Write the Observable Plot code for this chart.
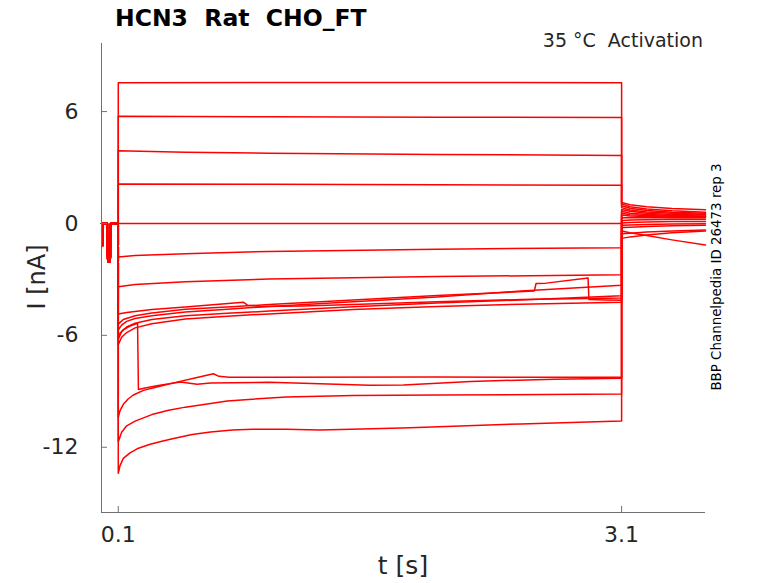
<!DOCTYPE html>
<html>
<head>
<meta charset="utf-8">
<script src="https://cdn.jsdelivr.net/npm/d3@7"></script>
<script src="https://cdn.jsdelivr.net/npm/@observablehq/plot@0.6"></script>
<style>
  body { margin: 0; background: #fff; }
  #chart { position: relative; width: 778px; height: 583px; }
  #chart svg { overflow: visible; }
</style>
</head>
<body>
<div id="chart"></div>
<script>
// HCN3 activation sweeps, current I [nA] vs time t [s]

const xTicks = [0.1, 3.1];
const yTicks = [6, 0, -6, -12];

// holding + test pulse before the step (same for every sweep)
const prePulse = [[0, 0], [0.006, 0], [0.0065, -1.2], [0.007, 0], [0.035, 0], [0.036, -1.8], [0.038, -2.05],
  [0.051, -2.05], [0.053, -1.8], [0.054, 0], [0.1, 0]];

// step part of each sweep (0.1 s .. 3.1 s)
const stepT1 = [[0.1, 7.55], [1.5, 7.56], [3.1, 7.55]];
const stepT2 = [[0.1, 5.75], [1.0, 5.72], [2.0, 5.7], [3.1, 5.68]];
const stepT3 = [[0.1, 3.9], [0.5, 3.82], [1.0, 3.77], [2.0, 3.7], [3.1, 3.65]];
const stepT4 = [[0.1, 2.12], [1.0, 2.1], [2.0, 2.07], [3.1, 2.05]];
const stepT5 = [[0.1, 0], [3.1, 0]];
const stepT6 = [[0.1, -1.8], [0.2, -1.72], [0.5, -1.62], [1.0, -1.5], [2.0, -1.38], [3.1, -1.3]];
const stepT7 = [[0.1, -3.4], [0.2, -3.27], [0.5, -3.12], [1.0, -2.98], [2.0, -2.85], [3.1, -2.75]];
const stepC1 = [[0.1, -5.4], [0.13, -5.15], [0.2, -4.95], [0.3, -4.8], [0.5, -4.6], [0.8, -4.45], [1.0, -4.35],
  [1.5, -4.1], [2.0, -3.87], [2.58, -3.62], [2.59, -3.22], [2.65, -3.2], [2.9, -2.93], [2.905, -4.08],
  [3.0, -4.1], [3.1, -4.12]];
const stepC2 = [[0.1, -4.85], [0.15, -4.78], [0.2, -4.72], [0.3, -4.62], [0.5, -4.48], [0.7, -4.33], [0.845, -4.22],
  [0.87, -4.38], [0.95, -4.45], [1.2, -4.42], [1.5, -4.35], [2.0, -4.2], [2.5, -4.08], [3.1, -4.0]];
const stepC3 = [[0.1, -5.7], [0.12, -5.45], [0.15, -5.25], [0.2, -5.1], [0.3, -4.95], [0.5, -4.75], [0.75, -4.6],
  [1.0, -4.45], [1.5, -4.2], [2.0, -3.95], [2.5, -3.62], [3.1, -3.32]];
const stepC4 = [[0.1, -6.2], [0.12, -5.8], [0.15, -5.55], [0.2, -5.35], [0.3, -5.15], [0.5, -4.95], [0.75, -4.82],
  [1.0, -4.7], [1.5, -4.47], [2.0, -4.27], [2.5, -4.1], [3.1, -3.88]];
const stepC5 = [[0.1, -6.5], [0.12, -6.1], [0.15, -5.85], [0.2, -5.6], [0.3, -5.38], [0.5, -5.12], [0.75, -4.97],
  [1.0, -4.85], [1.5, -4.62], [2.0, -4.45], [2.5, -4.33], [3.1, -4.22]];
const stepB = [[0.1, -6.0], [0.13, -5.7], [0.17, -5.5], [0.215, -5.36], [0.22, -8.9], [0.26, -8.82], [0.33, -8.7],
  [0.47, -8.5], [0.57, -8.62], [0.65, -8.55], [1.0, -8.52], [1.3, -8.6], [1.6, -8.68], [1.8, -8.66],
  [2.2, -8.47], [2.7, -8.35], [3.1, -8.3]];
const stepA = [[0.1, -10.4], [0.11, -10.05], [0.13, -9.7], [0.16, -9.4], [0.19, -9.2], [0.25, -8.95], [0.33, -8.77],
  [0.43, -8.55], [0.55, -8.3], [0.667, -8.06], [0.7, -8.2], [0.76, -8.25], [1.0, -8.25], [2.0, -8.24], [3.1, -8.25]];
const stepD = [[0.1, -11.7], [0.12, -11.2], [0.15, -10.85], [0.2, -10.6], [0.3, -10.25], [0.4, -10.02], [0.5, -9.85],
  [0.75, -9.52], [1.1, -9.3], [1.5, -9.22], [2.0, -9.2], [3.1, -9.15]];
const stepE = [[0.1, -13.4], [0.11, -13.0], [0.13, -12.6], [0.17, -12.3], [0.22, -12.05], [0.29, -11.84],
  [0.36, -11.68], [0.43, -11.53], [0.54, -11.32], [0.65, -11.18], [0.78, -11.08], [0.9, -11.03], [1.1, -11.03],
  [1.3, -11.07], [1.55, -11.02], [1.84, -10.95], [2.5, -10.75], [3.1, -10.6]];

// tail currents after the step (3.1 s .. 3.6 s)
const tailTimes = [3.1, 3.15, 3.25, 3.4, 3.6];
const tailT1 = [1.12, 1.0, 0.9, 0.8, 0.73];
const tailT2 = [1.05, 0.9, 0.78, 0.68, 0.6];
const tailT3 = [0.95, 0.82, 0.7, 0.6, 0.55];
const tailT4 = [0.85, 0.72, 0.62, 0.55, 0.5];
const tailT5 = [0.75, 0.65, 0.55, 0.48, 0.45];
const tailT6 = [0.65, 0.55, 0.48, 0.43, 0.4];
const tailT7 = [0.55, 0.47, 0.42, 0.38, 0.36];
const tailC1 = [0.45, 0.4, 0.37, 0.35, 0.34];
const tailC2 = [0.3, 0.3, 0.3, 0.3, 0.3];
const tailC3 = [0.15, 0.18, 0.2, 0.22, 0.22];
const tailC4 = [0.02, 0.05, 0.08, 0.1, 0.1];
const tailC5 = [-0.1, -0.08, -0.05, -0.03, -0.02];
const tailB = [-0.4, -0.5, -0.65, -0.88, -1.15];
const tailA = [-0.22, -0.2, -0.16, -0.12, -0.1];
const tailD = [-0.55, -0.52, -0.46, -0.4, -0.35];
const tailE = [-0.8, -0.72, -0.62, -0.5, -0.4];

const steps = [stepT1, stepT2, stepT3, stepT4, stepT5, stepT6, stepT7, stepC1, stepC2, stepC3, stepC4, stepC5,
  stepB, stepA, stepD, stepE];
const tails = [tailT1, tailT2, tailT3, tailT4, tailT5, tailT6, tailT7, tailC1, tailC2, tailC3, tailC4, tailC5,
  tailB, tailA, tailD, tailE];

// one long table: pre pulse, step, tail for every sweep
const rows = [];
steps.forEach((step, id) => {
  prePulse.forEach(([t, v]) => rows.push({id, t, v}));
  step.forEach(([t, v]) => rows.push({id, t, v}));
  tails[id].forEach((v, k) => rows.push({id, t: tailTimes[k], v}));
});

const W = 778, H = 583;
const mL = 101, mR = 73, mT = 43, mB = 71;
const axisColor = "#707070";
const textColor = "#262626";

const chart = Plot.plot({
  width: W,
  height: H,
  marginLeft: mL,
  marginRight: mR,
  marginTop: mT,
  marginBottom: mB,
  x: {domain: [0, 3.6]},
  y: {domain: [-15.5, 9.65]},
  style: {fontFamily: "DejaVu Sans", background: "#fff", color: textColor},
  marks: [
    Plot.line(rows, {x: "t", y: "v", z: "id", stroke: "#ff0000", strokeWidth: 1.5}),
    Plot.ruleX([0], {stroke: axisColor}),
    Plot.ruleY([-15.5], {stroke: axisColor}),
    // inward ticks like MATLAB
    Plot.tickY(yTicks, {y: d => d, stroke: axisColor, insetRight: W - mL - mR - 6}),
    Plot.tickX(xTicks, {x: d => d, stroke: axisColor, insetTop: H - mT - mB - 6}),
    Plot.axisY(yTicks, {tickSize: 0, tickPadding: 23, fontSize: 22, label: null, tickFormat: d => String(d)}),
    Plot.axisX(xTicks, {tickSize: 0, tickPadding: 14, fontSize: 22, label: null, tickFormat: d => String(d)})
  ]
});

document.getElementById("chart").appendChild(chart);

// titles and labels
const svg = d3.select(chart);
svg.append("text")
  .attr("x", 115).attr("y", 26).attr("text-anchor", "start")
  .attr("font-size", 23.5).attr("font-weight", "bold").attr("fill", "#000")
  .style("white-space", "pre")
  .text("HCN3  Rat  CHO_FT");
svg.append("text")
  .attr("x", 703).attr("y", 47).attr("text-anchor", "end")
  .attr("font-size", 19).attr("fill", textColor)
  .style("white-space", "pre")
  .text("35 °C  Activation");
svg.append("text")
  .attr("x", 403).attr("y", 574).attr("text-anchor", "middle")
  .attr("font-size", 25).attr("fill", textColor)
  .text("t [s]");
svg.append("text")
  .attr("transform", "translate(45,277) rotate(-90)").attr("text-anchor", "middle")
  .attr("font-size", 24).attr("fill", textColor)
  .text("I [nA]");
svg.append("text")
  .attr("transform", "translate(721,277) rotate(-90)").attr("text-anchor", "middle")
  .attr("font-size", 13.4).attr("fill", "#000")
  .text("BBP Channelpedia ID 26473 rep 3");
</script>
</body>
</html>
